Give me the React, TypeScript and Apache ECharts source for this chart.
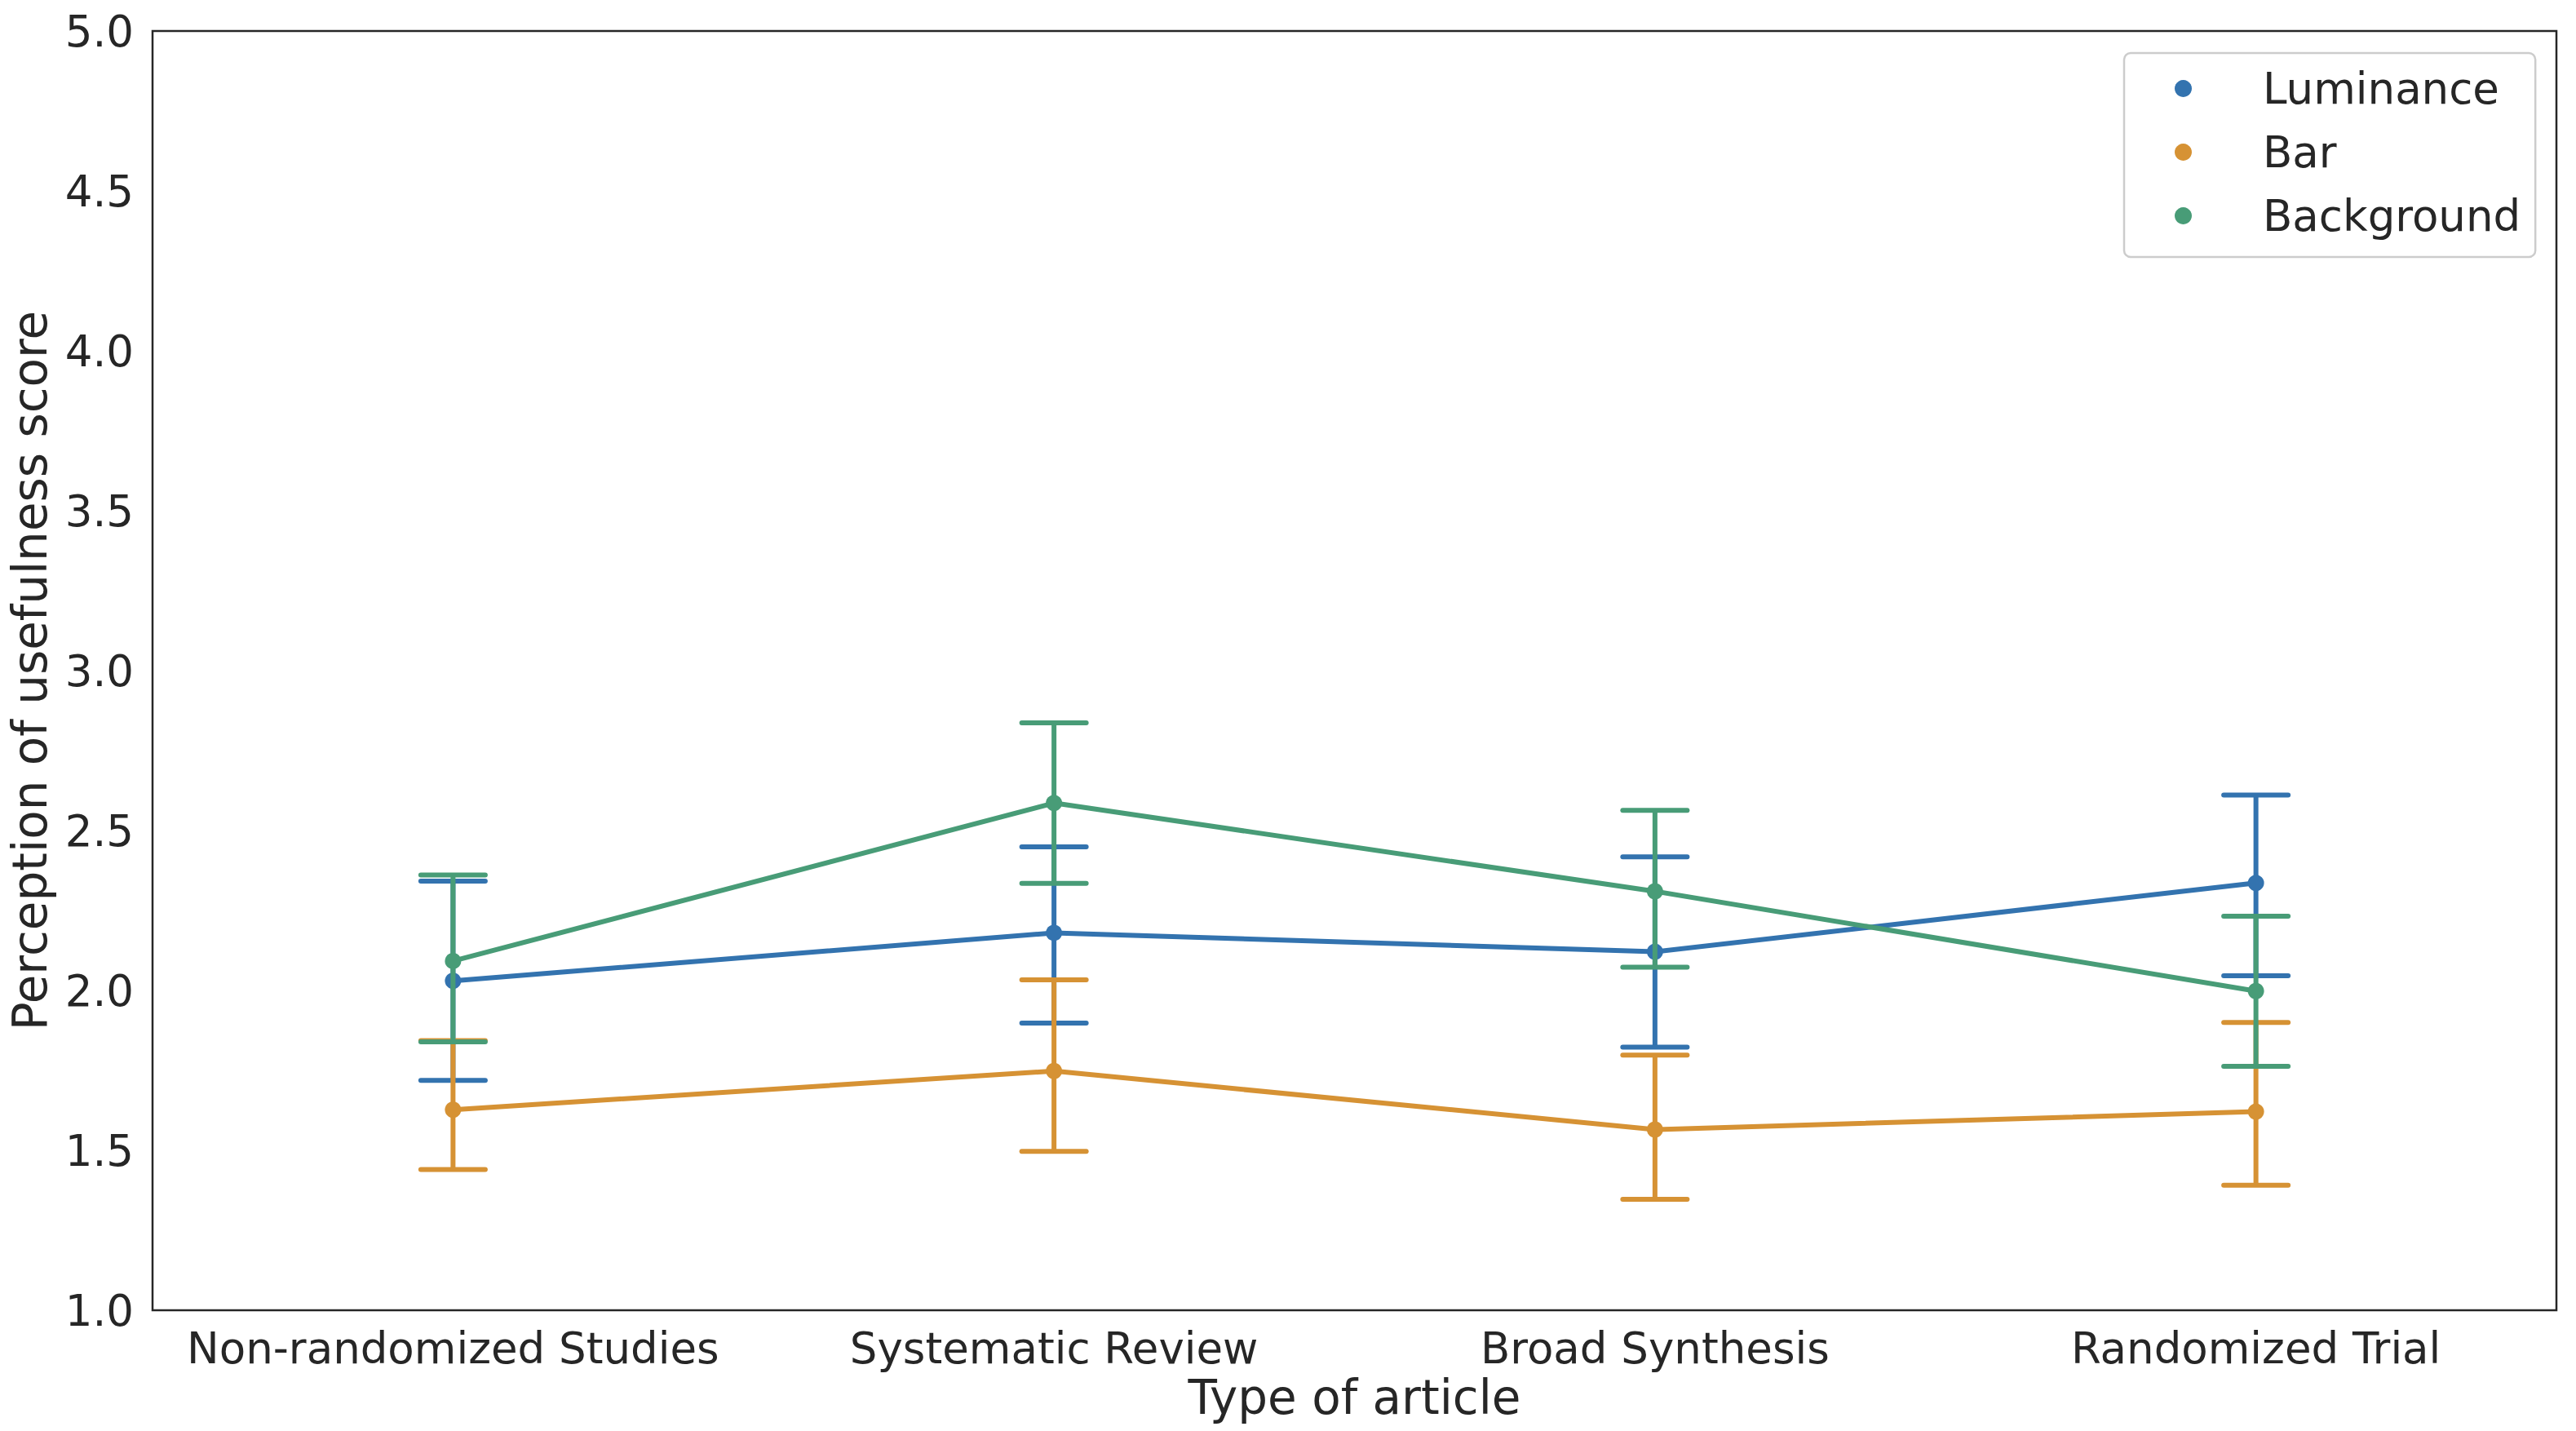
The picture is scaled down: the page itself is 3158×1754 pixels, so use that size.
import React, { useEffect, useRef } from "react";
import * as echarts from "echarts";

const categories = ["Non-randomized Studies", "Systematic Review", "Broad Synthesis", "Randomized Trial"];
const seriesNames = ["Luminance", "Bar", "Background"];
const seriesColors = ["#3373af", "#d69234", "#489c77"];

const luminanceMean = [2.03, 2.18, 2.121, 2.336];
const luminanceLow = [1.719, 1.898, 1.823, 2.046];
const luminanceHigh = [2.342, 2.449, 2.418, 2.611];

const barMean = [1.627, 1.748, 1.565, 1.621];
const barLow = [1.44, 1.497, 1.347, 1.391];
const barHigh = [1.843, 2.033, 1.798, 1.9];

const backgroundMean = [2.092, 2.586, 2.31, 1.998];
const backgroundLow = [1.839, 2.335, 2.073, 1.763];
const backgroundHigh = [2.361, 2.837, 2.563, 2.232];

const yMin = 1.0;
const yMax = 5.0;
const yInterval = 0.5;

const FONT = "DejaVu Sans";
const TEXT = "#262626";

export default function App() {
  const ref = useRef<HTMLDivElement>(null);

  useEffect(() => {
    if (!ref.current) return;
    const chart = echarts.init(ref.current, null, { renderer: "svg" });

    const means = [luminanceMean, barMean, backgroundMean];
    const lows = [luminanceLow, barLow, backgroundLow];
    const highs = [luminanceHigh, barHigh, backgroundHigh];

    const series: any[] = [];
    seriesNames.forEach((name, s) => {
      const color = seriesColors[s];
      series.push({
        name: name + " CI",
        type: "custom",
        data: categories.map((_, i) => [i, lows[s][i], highs[s][i]]),
        encode: { x: 0, y: [1, 2] },
        itemStyle: { color },
        z: 2 + s * 2,
        renderItem: (params: any, api: any) => {
          const lo = api.coord([api.value(0), api.value(1)]);
          const hi = api.coord([api.value(0), api.value(2)]);
          const half = 39.5;
          const st = { stroke: color, lineWidth: 6, lineCap: "round" };
          return {
            type: "group",
            children: [
              { type: "line", shape: { x1: lo[0], y1: lo[1], x2: hi[0], y2: hi[1] }, style: { stroke: color, lineWidth: 6 } },
              { type: "line", shape: { x1: lo[0] - half, y1: lo[1], x2: lo[0] + half, y2: lo[1] }, style: st },
              { type: "line", shape: { x1: hi[0] - half, y1: hi[1], x2: hi[0] + half, y2: hi[1] }, style: st },
            ],
          };
        },
      });
      series.push({
        name,
        type: "line",
        data: means[s],
        symbol: "circle",
        symbolSize: 20,
        showSymbol: true,
        color,
        itemStyle: { color },
        lineStyle: { color, width: 6 },
        z: 3 + s * 2,
      });
    });

    chart.setOption({
      animation: false,
      backgroundColor: "#ffffff",
      grid: {
        left: 185,
        right: 24,
        top: 38,
        bottom: 148,
        show: true,
        borderColor: TEXT,
        borderWidth: 2.5,
        backgroundColor: "transparent",
      },
      legend: {
        data: seriesNames,
        orient: "vertical",
        left: 2604,
        top: 65,
        padding: [17, 18, 24, 62],
        itemGap: 25,
        itemWidth: 21,
        itemHeight: 21,
        icon: "circle",
        borderColor: "#cccccc",
        borderWidth: 2.5,
        borderRadius: 8,
        backgroundColor: "rgba(255,255,255,0.8)",
        formatter: (name: string) => `{t|${name}}`,
        textStyle: {
          fontFamily: FONT,
          fontSize: 53,
          color: TEXT,
          rich: {
            t: { fontFamily: FONT, fontSize: 53, lineHeight: 53, color: TEXT, padding: [0, 0, 0, 82] },
          },
        },
      },
      xAxis: {
        type: "category",
        data: categories,
        boundaryGap: true,
        name: "Type of article",
        nameLocation: "middle",
        nameGap: 78,
        nameTextStyle: { fontFamily: FONT, fontSize: 58, color: TEXT },
        axisLine: { show: false },
        axisTick: { show: false },
        splitLine: { show: false },
        axisLabel: { fontFamily: FONT, fontSize: 53, color: TEXT, margin: 20, interval: 0 },
      },
      yAxis: {
        type: "value",
        min: yMin,
        max: yMax,
        interval: yInterval,
        name: "Perception of usefulness score",
        nameLocation: "middle",
        nameGap: 121,
        nameTextStyle: { fontFamily: FONT, fontSize: 58, color: TEXT },
        axisLine: { show: false },
        axisTick: { show: false },
        splitLine: { show: false },
        axisLabel: {
          fontFamily: FONT,
          fontSize: 53,
          color: TEXT,
          margin: 23,
          formatter: (v: number) => v.toFixed(1),
        },
      },
      series,
    });

    return () => chart.dispose();
  }, []);

  return (
    <div
      ref={ref}
      style={{ position: "fixed", left: 0, top: 0, width: 3158, height: 1754, background: "#fff" }}
    />
  );
}
